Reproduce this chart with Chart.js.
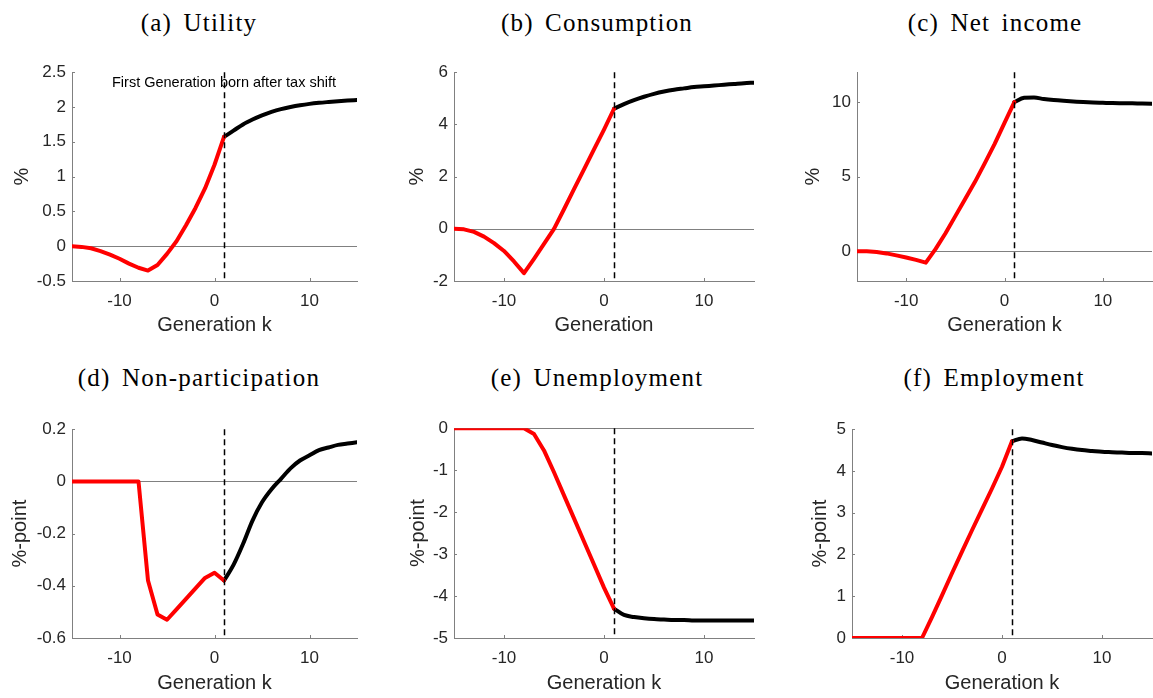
<!DOCTYPE html>
<html>
<head>
<meta charset="utf-8">
<title>Effects by generation</title>
<script src="https://cdn.jsdelivr.net/npm/chart.js@4.4.1/dist/chart.umd.min.js"></script>
<style>
  html, body { margin: 0; padding: 0; background: #fff; }
  #fig { position: relative; width: 1153px; height: 698px; overflow: hidden; }
  #fig canvas { position: absolute; }
  .ttl {
    position: absolute; width: 340px; text-align: center; white-space: nowrap;
    font-family: "Liberation Serif", serif; font-size: 25px; line-height: 24px;
    letter-spacing: 1.2px; word-spacing: 4px; color: #000;
  }
</style>
</head>
<body>
<div id="fig"></div>
<script>
// generations: red = born before the shift, black = born after
const redGen   = [-15, -14, -13, -12, -11, -10, -9, -8, -7, -6, -5, -4, -3, -2, -1, 0, 1];
const blackGen = [1, 2, 3, 4, 5, 6, 7, 8, 9, 10, 11, 12, 13, 14, 15];
const shiftGen = 1;
const xTicks = [-10, 0, 10];

// (a) Utility, %
const utilityRed   = [0, -0.01, -0.03, -0.07, -0.12, -0.18, -0.25, -0.31, -0.35, -0.27, -0.11, 0.07, 0.3, 0.55, 0.83, 1.17, 1.57];
const utilityBlack = [1.57, 1.66, 1.75, 1.82, 1.88, 1.93, 1.97, 2.0, 2.025, 2.045, 2.06, 2.072, 2.083, 2.092, 2.1];
const utilityTicks = [-0.5, 0, 0.5, 1, 1.5, 2, 2.5];

// (b) Consumption, %
const consRed   = [0, -0.02, -0.12, -0.3, -0.55, -0.85, -1.25, -1.7, -1.15, -0.58, 0, 0.75, 1.52, 2.28, 3.04, 3.8, 4.6];
const consBlack = [4.6, 4.78, 4.93, 5.06, 5.17, 5.26, 5.33, 5.38, 5.43, 5.46, 5.49, 5.52, 5.55, 5.58, 5.6];
const consTicks = [-2, 0, 2, 4, 6];

// (c) Net income, %
const incomeRed   = [0, 0, -0.05, -0.15, -0.28, -0.42, -0.58, -0.77, 0.15, 1.2, 2.35, 3.5, 4.65, 5.9, 7.2, 8.6, 10.0];
const incomeBlack = [10.0, 10.28, 10.3, 10.2, 10.13, 10.08, 10.04, 10.0, 9.97, 9.95, 9.93, 9.92, 9.91, 9.9, 9.89];
const incomeTicks = [0, 5, 10];

// (d) Non-participation, %-point
const nonPartRed   = [0, 0, 0, 0, 0, 0, 0, 0, -0.38, -0.51, -0.53, -0.49, -0.45, -0.41, -0.37, -0.35, -0.38];
const nonPartBlack = [-0.38, -0.32, -0.24, -0.15, -0.08, -0.03, 0.01, 0.05, 0.08, 0.1, 0.12, 0.13, 0.14, 0.145, 0.15];
const nonPartTicks = [-0.6, -0.4, -0.2, 0, 0.2];

// (e) Unemployment, %-point
const unempRed   = [0, 0, 0, 0, 0, 0, 0, 0, -0.14, -0.53, -1.05, -1.6, -2.15, -2.7, -3.25, -3.8, -4.3];
const unempBlack = [-4.3, -4.45, -4.5, -4.53, -4.55, -4.56, -4.57, -4.57, -4.58, -4.58, -4.58, -4.58, -4.58, -4.58, -4.58];
const unempTicks = [-5, -4, -3, -2, -1, 0];

// (f) Employment, %-point
const empRed   = [0, 0, 0, 0, 0, 0, 0, 0, 0.5, 1.02, 1.55, 2.07, 2.58, 3.08, 3.58, 4.1, 4.71];
const empBlack = [4.71, 4.78, 4.74, 4.68, 4.62, 4.57, 4.53, 4.5, 4.48, 4.46, 4.45, 4.44, 4.43, 4.43, 4.42];
const empTicks = [0, 1, 2, 3, 4, 5];

const NOTE = 'First Generation born after tax shift';

// box = plot area [left, right, top, bottom] in page pixels
const panels = [
  { title: '(a) Utility', red: utilityRed, black: utilityBlack, yTicks: utilityTicks, yMin: -0.5, yMax: 2.5,
    yLabel: '%', xLabel: 'Generation k', box: [72, 357, 68, 281], yLabelX: 22, xLabelY: 325, titleX: 199, titleY: 11,
    note: NOTE, noteY: 2.345 },
  { title: '(b) Consumption', red: consRed, black: consBlack, yTicks: consTicks, yMin: -2, yMax: 6,
    yLabel: '%', xLabel: 'Generation', box: [454, 754, 68, 281], yLabelX: 417, xLabelY: 325, titleX: 597, titleY: 11 },
  { title: '(c) Net income', red: incomeRed, black: incomeBlack, yTicks: incomeTicks, yMin: -2, yMax: 12,
    yLabel: '%', xLabel: 'Generation k', box: [857, 1152, 68, 281], yLabelX: 813, xLabelY: 325, titleX: 995, titleY: 11 },
  { title: '(d) Non-participation', red: nonPartRed, black: nonPartBlack, yTicks: nonPartTicks, yMin: -0.6, yMax: 0.2,
    yLabel: '%-point', xLabel: 'Generation k', box: [72, 357, 425, 638], yLabelX: 20, xLabelY: 683, titleX: 199, titleY: 366 },
  { title: '(e) Unemployment', red: unempRed, black: unempBlack, yTicks: unempTicks, yMin: -5, yMax: 0,
    yLabel: '%-point', xLabel: 'Generation k', box: [454, 754, 424, 638], yLabelX: 418, xLabelY: 683, titleX: 597, titleY: 366 },
  { title: '(f) Employment', red: empRed, black: empBlack, yTicks: empTicks, yMin: 0, yMax: 5,
    yLabel: '%-point', xLabel: 'Generation k', box: [852, 1152, 425, 638], yLabelX: 820, xLabelY: 683, titleX: 994, titleY: 366 }
];

const AXIS_GRAY = '#808080';
const TEXT = '#262626';

// zero line, inward tick marks, the note and the dashed shift line
const refLines = {
  id: 'refLines',
  beforeDatasetsDraw(chart, args, opts) {
    const { ctx, chartArea: a, scales: { x, y } } = chart;
    ctx.save();
    ctx.strokeStyle = AXIS_GRAY;
    ctx.lineWidth = 1;
    const y0 = Math.round(y.getPixelForValue(0)) + 0.5;
    ctx.beginPath();
    ctx.moveTo(a.left, y0); ctx.lineTo(a.right, y0);
    xTicks.forEach(v => {
      const px = Math.round(x.getPixelForValue(v)) + 0.5;
      ctx.moveTo(px, a.bottom); ctx.lineTo(px, a.bottom - 3);
    });
    (opts.yTicks || []).forEach(v => {
      const py = Math.round(y.getPixelForValue(v)) + 0.5;
      ctx.moveTo(a.left, py); ctx.lineTo(a.left + 3, py);
    });
    ctx.stroke();
    if (opts.note) {
      ctx.fillStyle = '#000';
      ctx.font = '14.5px "Liberation Sans", Arial, sans-serif';
      ctx.textAlign = 'center';
      ctx.textBaseline = 'middle';
      ctx.fillText(opts.note, x.getPixelForValue(shiftGen), y.getPixelForValue(opts.noteY));
    }
    ctx.restore();
  },
  afterDatasetsDraw(chart) {
    const { ctx, chartArea: a, scales: { x } } = chart;
    const px = Math.round(x.getPixelForValue(shiftGen)) + 0.5;
    ctx.save();
    ctx.strokeStyle = '#000';
    ctx.lineWidth = 1.5;
    ctx.setLineDash([6, 4]);
    ctx.beginPath();
    ctx.moveTo(px, a.top); ctx.lineTo(px, a.bottom);
    ctx.stroke();
    ctx.restore();
  }
};

const fig = document.getElementById('fig');

function makePanel(p) {
  const [pl, pr, pt, pb] = p.box;
  const left = Math.round(p.yLabelX - 12);
  const top = pt - 12;
  const bottom = Math.round(p.xLabelY + 12);
  const right = Math.min(pr + 4, 1153);

  const cv = document.createElement('canvas');
  cv.width = right - left;
  cv.height = bottom - top;
  cv.style.left = left + 'px';
  cv.style.top = top + 'px';
  fig.appendChild(cv);

  const ttl = document.createElement('div');
  ttl.className = 'ttl';
  ttl.textContent = p.title;
  ttl.style.left = (p.titleX - 170) + 'px';
  ttl.style.top = p.titleY + 'px';
  fig.appendChild(ttl);

  const yW = pl - left, xH = bottom - pb;

  new Chart(cv, {
    type: 'line',
    data: {
      datasets: [
        { data: p.red.map((v, i) => ({ x: redGen[i], y: v })), borderColor: '#ff0000' },
        { data: p.black.map((v, i) => ({ x: blackGen[i], y: v })), borderColor: '#000000', cubicInterpolationMode: 'monotone' }
      ]
    },
    options: {
      responsive: false,
      animation: false,
      devicePixelRatio: 1,
      layout: { padding: { top: 12, right: right - pr, left: 0, bottom: 0 } },
      elements: {
        line: { borderWidth: 4, tension: 0, borderCapStyle: 'round', borderJoinStyle: 'round', fill: false },
        point: { radius: 0, hoverRadius: 0 }
      },
      plugins: {
        legend: { display: false },
        tooltip: { enabled: false },
        refLines: { yTicks: p.yTicks, note: p.note, noteY: p.noteY }
      },
      scales: {
        x: {
          type: 'linear', min: -15, max: 15,
          afterBuildTicks: ax => { ax.ticks = xTicks.map(v => ({ value: v })); },
          afterFit: ax => { ax.height = xH; },
          grid: { display: false, drawTicks: false },
          border: { display: true, color: AXIS_GRAY, width: 1 },
          ticks: { padding: 10, color: TEXT, font: { family: 'Liberation Sans', size: 17 }, callback: v => String(v) },
          title: { display: true, text: p.xLabel, color: TEXT, padding: 0, font: { family: 'Liberation Sans', size: 20 } }
        },
        y: {
          type: 'linear', min: p.yMin, max: p.yMax,
          afterBuildTicks: ax => { ax.ticks = p.yTicks.map(v => ({ value: v })); },
          afterFit: ax => { ax.width = yW; },
          grid: { display: false, drawTicks: false },
          border: { display: true, color: AXIS_GRAY, width: 1 },
          ticks: { padding: 6, color: TEXT, font: { family: 'Liberation Sans', size: 17 }, callback: v => String(v) },
          title: { display: true, text: p.yLabel, color: TEXT, padding: 0, font: { family: 'Liberation Sans', size: 20 } }
        }
      }
    },
    plugins: [refLines]
  });
}

panels.forEach(makePanel);
</script>
</body>
</html>
